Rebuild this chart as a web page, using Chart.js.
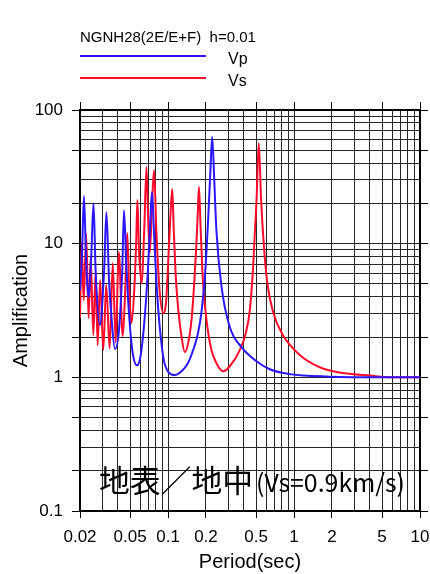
<!DOCTYPE html>
<html>
<head>
<meta charset="utf-8">
<script src="https://cdn.jsdelivr.net/npm/chart.js@4.4.1/dist/chart.umd.min.js"></script>
<style>
  html, body { margin:0; padding:0; background:#fff; }
  #wrap { position:relative; width:430px; height:574px; }
</style>
</head>
<body>
<div id="wrap"><canvas id="amp"></canvas></div>
<script>
// (period in sec, amplification ratio)
const vpPeriod = [0.0200,0.0208,0.0215,0.0224,0.0233,0.0245,0.0256,0.0266,0.0287,0.0311,0.0324,0.0340,0.0357,0.0379,
  0.0408,0.0433,0.0447,0.0467,0.0496,0.0527,0.0567,0.0607,0.0653,0.0694,0.0725,0.0746,0.0774,0.0809,0.0859,0.0925,
  0.101,0.113,0.128,0.144,0.160,0.173,0.185,0.196,0.208,0.217,0.224,0.231,0.242,0.266,0.309,0.383,0.488,0.642,0.926,
  1.92,4.80,10];
const vpAmp = [4.49,8.96,22.7,7.16,3.98,7.54,20.1,6.34,2.46,6.34,17.2,5.34,2.68,1.63,
  2.26,6.34,17.8,6.68,2.55,1.47,1.23,1.47,2.82,6.68,15.8,24.3,12.0,5.07,2.38,1.35,
  1.09,1.04,1.11,1.28,1.65,2.14,3.18,5.62,15.0,35.5,62.8,35.5,12.6,4.73,2.38,1.68,1.35,1.15,1.057,
  1.012,1.0,1.0];

const vsPeriod = [0.0200,0.0206,0.0214,0.0224,0.0234,0.0243,0.0255,0.0266,0.0276,0.0289,0.0306,0.0323,0.0344,0.0364,
  0.0384,0.0406,0.0437,0.0457,0.0474,0.0492,0.0512,0.0539,0.0559,0.0571,0.0588,0.0615,0.0647,0.0674,0.0694,0.0716,
  0.0746,0.0774,0.0809,0.0848,0.0913,0.0967,0.100,0.104,0.108,0.111,0.115,0.120,0.128,0.136,0.146,0.154,0.161,0.167,
  0.172,0.176,0.181,0.189,0.202,0.221,0.244,0.274,0.309,0.371,0.414,0.446,0.473,0.504,0.525,0.548,0.576,0.614,0.682,
  0.815,1.11,1.60,2.31,4.0,6.32,10];
const vsAmp = [2.77,10.1,3.78,11.8,2.77,7.94,2.07,6.13,1.74,5.34,1.60,4.90,1.65,7.16,
  1.83,8.65,2.03,4.49,12.0,4.49,2.55,4.49,10.6,21.2,8.96,5.07,12.6,37.4,15.8,8.50,
  19.4,35.5,12.0,5.07,3.02,3.78,6.92,15.0,25.6,12.6,5.82,3.35,2.00,1.54,1.90,2.77,4.90,8.96,
  16.4,26.5,13.8,5.34,2.68,1.60,1.26,1.11,1.21,1.60,2.14,3.18,6.57,21.2,56.6,21.2,9.76,5.07,3.08,
  2.07,1.47,1.19,1.085,1.03,1.0,1.0];

const xLabels = [0.02, 0.05, 0.1, 0.2, 0.5, 1, 2, 5, 10];
const yLabels = [0.1, 1, 10, 100];
const legendTitle = 'NGNH28(2E/E+F)  h=0.01';
const noteMain = '地表／地中';
const noteSub = '(Vs=0.9km/s)';

const BLUE = '#2b16ff', RED = '#ff0a2a';
const AXIS_FONT = '"Liberation Sans", Arial, sans-serif';

const near = (a, b) => Math.abs(a - b) < b * 1e-6;
const isIn = (v, list) => list.some(x => near(v, x));
const mant = (v) => Math.round(v / Math.pow(10, Math.floor(Math.log10(v) + 1e-9)));

function logTicks(min, max) {
  const out = [];
  for (let e = -3; e <= 3; e++) for (let m = 1; m <= 9; m++) {
    const v = parseFloat((m * Math.pow(10, e)).toPrecision(3));
    if (v >= min * 0.9999 && v <= max * 1.0001) out.push({value: v});
  }
  return out;
}

// keep the plot box where the reference has it, whatever the labels want
function fixBox(w, h) {
  return (s) => {
    if (w != null) s.width = w;
    if (h != null) s.height = h;
    s.paddingLeft = 0; s.paddingRight = 0; s.paddingTop = 0; s.paddingBottom = 0;
  };
}

const pts = (xs, ys) => xs.map((x, i) => ({x, y: ys[i]}));

const overlay = {
  id: 'overlay',
  afterDraw(chart) {
    const ctx = chart.ctx;
    ctx.save();
    ctx.fillStyle = '#000';
    ctx.textBaseline = 'middle';
    ctx.textAlign = 'left';
    ctx.font = '15px ' + AXIS_FONT;
    ctx.fillText(legendTitle, 80, 38);
    chart.data.datasets.forEach((ds, i) => {
      const y = 56 + i * 22;
      ctx.strokeStyle = ds.borderColor; ctx.lineWidth = 2;
      ctx.beginPath(); ctx.moveTo(80, y); ctx.lineTo(206, y); ctx.stroke();
      ctx.font = '16px ' + AXIS_FONT;
      ctx.fillText(ds.label, 228, y + 4);
    });

    // note inside the plot, sized to the reference widths
    ctx.textBaseline = 'alphabetic';
    const cjk = '"Noto Sans CJK JP", sans-serif';
    ctx.font = '100px ' + cjk;
    let s = 100 * 154 / ctx.measureText(noteMain).width;
    ctx.font = s.toFixed(1) + 'px ' + cjk;
    ctx.fillText(noteMain, 99, 492);
    ctx.font = '100px ' + cjk;
    s = 100 * 149 / ctx.measureText(noteSub).width;
    ctx.font = s.toFixed(1) + 'px ' + cjk;
    ctx.fillText(noteSub, 256, 492);
    ctx.restore();
  }
};

new Chart(document.getElementById('amp'), {
  type: 'line',
  data: {
    datasets: [
      {label:'Vp', data:pts(vpPeriod, vpAmp), borderColor:BLUE, borderWidth:2, pointRadius:0, cubicInterpolationMode:'monotone', fill:false},
      {label:'Vs', data:pts(vsPeriod, vsAmp), borderColor:RED, borderWidth:2, pointRadius:0, cubicInterpolationMode:'monotone', fill:false}
    ]
  },
  options: {
    responsive:true,
    maintainAspectRatio:false,
    animation:false,
    devicePixelRatio:1,
    layout:{padding:{top:102, left:0, right:0, bottom:0}},
    plugins:{legend:{display:false}, tooltip:{enabled:false}},
    scales:{
      x:{
        type:'logarithmic', position:'bottom', min:0.02, max:10,
        afterBuildTicks:(s) => { s.ticks = logTicks(0.02, 10); },
        afterFit:fixBox(null, 63),
        ticks:{autoSkip:false, maxRotation:0, minRotation:0, padding:9, color:'#000', font:{family:AXIS_FONT, size:17},
          callback:(v) => isIn(v, xLabels) ? String(v) : ''},
        grid:{color:'#262626', lineWidth:1, tickLength:7,
          tickColor:(c) => c.tick && isIn(c.tick.value, xLabels) ? '#000' : 'rgba(0,0,0,0)'},
        border:{color:'#000', width:2},
        title:{display:true, text:'Period(sec)', color:'#000', font:{family:AXIS_FONT, size:20}, padding:{top:0, bottom:0}}
      },
      x2:{
        type:'logarithmic', position:'top', min:0.02, max:10,
        afterBuildTicks:(s) => { s.ticks = xLabels.map(v => ({value:v})); },
        afterFit:fixBox(null, 8),
        ticks:{display:false},
        grid:{drawOnChartArea:false, tickLength:8, tickColor:'#000', lineWidth:1},
        border:{color:'#000', width:2}
      },
      y:{
        type:'logarithmic', position:'left', min:0.1, max:100,
        afterBuildTicks:(s) => { s.ticks = logTicks(0.1, 100); },
        afterFit:fixBox(80, null),
        ticks:{autoSkip:false, padding:9, color:'#000', font:{family:AXIS_FONT, size:17},
          callback:(v) => isIn(v, yLabels) ? String(v) : ''},
        grid:{color:'#262626', lineWidth:1, tickLength:8,
          tickColor:(c) => c.tick && [1,2,5].includes(mant(c.tick.value)) ? '#000' : 'rgba(0,0,0,0)'},
        border:{color:'#000', width:2},
        title:{display:true, text:'Amplification', color:'#000', font:{family:AXIS_FONT, size:20}, padding:{top:9, bottom:0}}
      },
      y2:{
        type:'logarithmic', position:'right', min:0.1, max:100,
        afterBuildTicks:(s) => { s.ticks = logTicks(0.1, 100).filter(t => [1,2,5].includes(mant(t.value))); },
        afterFit:fixBox(10, null),
        ticks:{display:false},
        grid:{drawOnChartArea:false, tickLength:8, tickColor:'#000', lineWidth:1},
        border:{color:'#000', width:2}
      }
    }
  },
  plugins:[overlay]
});
</script>
</body>
</html>
